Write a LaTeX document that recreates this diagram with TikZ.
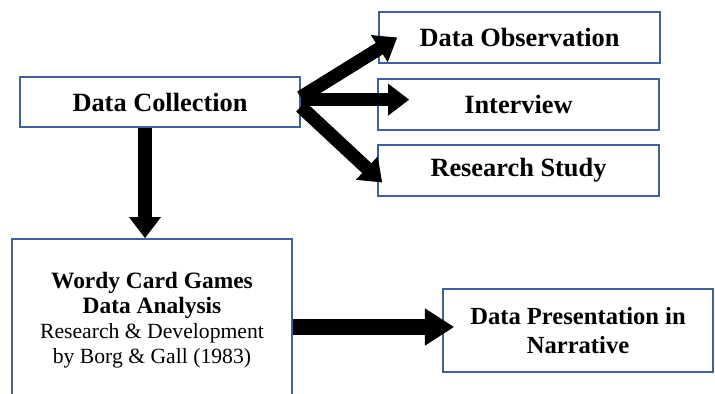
\documentclass[tikz,border=0pt]{standalone}
\usepackage{fontspec}
\setmainfont{Liberation Serif}
\usepackage{tikz}
\usetikzlibrary{arrows.meta}

\definecolor{boxblue}{HTML}{3F5F9F}

\begin{document}
\begin{tikzpicture}[x=0.03cm, y=-0.03cm,
    box/.style={draw=boxblue, line width=1.3pt, fill=white, align=center, inner sep=0pt},
    fat/.style={line width=11.5pt, -{Triangle[width=26pt,length=18pt]}},
    fatwide/.style={line width=13.5pt, -{Triangle[width=30pt,length=25pt]}}]
        % Kuvan rajat
        \useasboundingbox (0,0) rectangle (715,394);

        % Laatikot
        \node[box, font=\fontsize{22.5}{26}\selectfont\bfseries,
              minimum width=280*0.03cm, minimum height=50*0.03cm] (coll) at (160,102) {Data Collection};
        \node[box, font=\fontsize{22.5}{26}\selectfont\bfseries,
              minimum width=281*0.03cm, minimum height=51*0.03cm] (obs) at (519.5,37.5) {Data Observation};
        \node[box, font=\fontsize{22.5}{26}\selectfont\bfseries,
              minimum width=281*0.03cm, minimum height=51*0.03cm] (intv) at (518.5,104.5) {Interview};
        \node[box, font=\fontsize{22.5}{26}\selectfont\bfseries,
              minimum width=281*0.03cm, minimum height=51*0.03cm] (study) at (518.5,170.5) {Research Study};
        \node[box, font=\fontsize{18.5}{21.5}\selectfont,
              minimum width=280*0.03cm, minimum height=162*0.03cm] (anal) at (152,320)
          {\textbf{\fontsize{20}{21.5}\selectfont Wordy Card Games}\\
           \textbf{\fontsize{20}{21.5}\selectfont Data Analysis}\\
           Research \& Development\\
           by Borg \& Gall (1983)};
        \node[box, font=\fontsize{21}{25}\selectfont\bfseries,
              minimum width=270*0.03cm, minimum height=83*0.03cm] (pres) at (578,330.5)
          {Data Presentation in\\ Narrative};

        % Nuolet
        \coordinate (fan) at ([yshift=4pt]coll.east);   % Nuolten lähtöpiste
        \draw[fat] (fan) -- ([xshift=19*0.03cm]obs.west);
        \draw[fat] ([yshift=-2pt]fan) -- ([xshift=32*0.03cm, yshift=-2pt]intv.west |- fan);
        \draw[fat] ([yshift=-8pt]fan) -- ([xshift=5*0.03cm, yshift=-12*0.03cm]study.west);
        \draw[fat] ([xshift=-15*0.03cm]coll.south) -- ([xshift=-7*0.03cm]anal.north);
        \draw[fatwide] ([yshift=-7*0.03cm]anal.east) -- ([xshift=12*0.03cm, yshift=3.5*0.03cm]pres.west);
      \end{tikzpicture}
\end{document}
